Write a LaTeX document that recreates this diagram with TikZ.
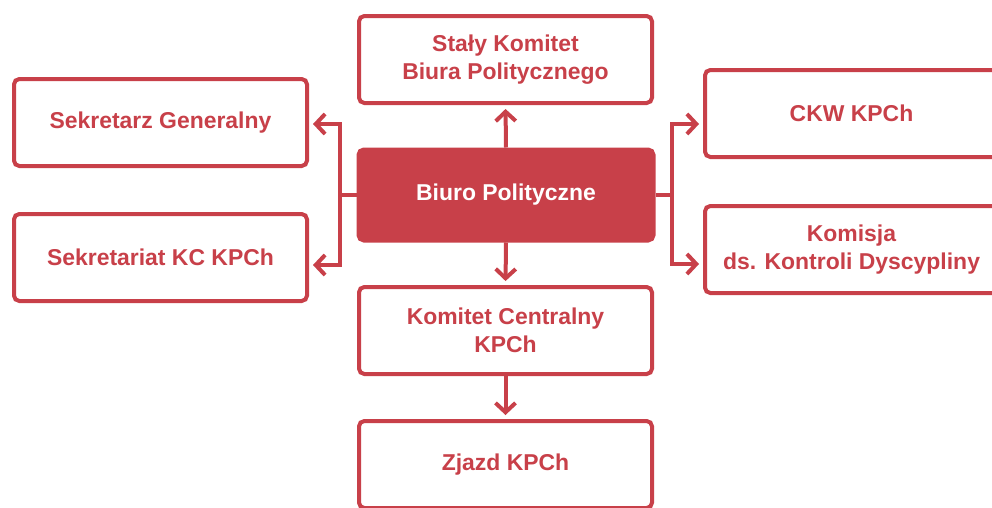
\documentclass[tikz,border=0pt]{standalone}
\usepackage{fontspec}
\setmainfont{Liberation Sans}
\usetikzlibrary{arrows.meta, calc}
\definecolor{kpred}{RGB}{200,64,73}

\begin{document}
\begin{tikzpicture}[x=0.75pt, y=-0.75pt,
            box/.style={draw=kpred, line width=3pt, rounded corners=4pt, fill=white,
                minimum width=219.75pt, minimum height=65.25pt, inner sep=0pt,
                align=center, text=kpred, font=\bfseries\fontsize{17.2}{21}\selectfont},
            hub/.style={box, fill=kpred, text=white, minimum width=221.25pt, minimum height=68.25pt},
            link/.style={draw=kpred, line width=3pt},
            arr/.style={link, -{Straight Barb[length=7pt, width=15pt]}, shorten >=3pt}]
            \useasboundingbox (0,0) rectangle (992,507);
            \clip (0,0) rectangle (992,507);
            \node[box] (stk) at (505.5,59.5)  {Stały Komitet\\Biura Politycznego};
            \node[hub] (bp)  at (506,195)     {Biuro Polityczne};
            \node[box] (sg)  at (160.5,122.5) {Sekretarz Generalny};
            \node[box] (skc) at (160.5,257.5) {Sekretariat KC KPCh};
            \node[box] (ckw) at (851.5,113.5) {CKW KPCh};
            \node[box] (kkd) at (851.5,249.5) {Komisja\\ds. Kontroli Dyscypliny};
            \node[box] (kc)  at (505.5,330.5) {Komitet Centralny\\KPCh};
            \node[box] (zj)  at (505.5,464.5) {Zjazd KPCh};
            \coordinate (lj) at (340,195);
            \coordinate (rj) at (672,195);
            \draw[link] (bp.west) -- (lj);
            \draw[arr] (lj) |- ($(sg.east)+(0,1.5)$);
            \draw[arr] (lj) |- ($(skc.east)+(0,7.5)$);
            \draw[link] (bp.east) -- (rj);
            \draw[arr] (rj) |- ($(ckw.west)+(0,10.5)$);
            \draw[arr] (rj) |- ($(kkd.west)+(0,14.5)$);
            \draw[arr] (bp.north) -- (stk.south);
            \draw[arr] (bp.south) -- (kc.north);
            \draw[arr] (kc.south) -- (zj.north);
        \end{tikzpicture}
\end{document}
